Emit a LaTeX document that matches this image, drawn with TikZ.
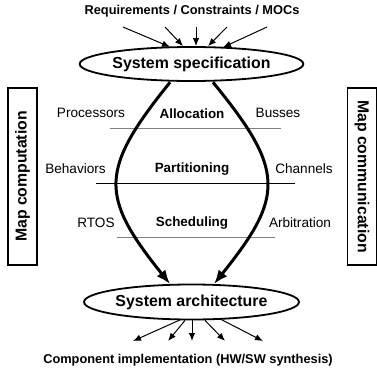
\documentclass[tikz,border=0pt]{standalone}
\usepackage{fontspec}
\setmainfont{Liberation Sans}
\usetikzlibrary{arrows.meta,shapes.geometric}
\tikzset{
  specnode/.style={ellipse, draw, line width=1.8pt, minimum width=191pt,
    minimum height=34pt, inner sep=0pt, font=\fontsize{15.9}{19}\selectfont\bfseries},
  mapbox/.style={draw, line width=1.5pt, minimum width=177pt, minimum height=29pt,
    inner sep=0pt, font=\fontsize{15.8}{19}\selectfont\bfseries},
  side/.style={inner sep=0pt, font=\fontsize{13.6}{16}\selectfont},
  stage/.style={inner sep=0pt, font=\fontsize{13.4}{16}\selectfont\bfseries},
  outer/.style={inner sep=0pt, font=\fontsize{12.8}{15}\selectfont\bfseries},
  thin arrow/.style={line width=1pt, -{Latex[length=8pt,width=6.5pt]}},
  flow/.style={line width=3pt, -{Latex[length=14pt,width=11pt]}},
  sep/.style={line width=1pt},
}
\begin{document}
\begin{tikzpicture}[x=1pt,y=-1pt]
\useasboundingbox (0,0) rectangle (377,372);

% design levels
\node[specnode] (spec) at (191.5,64) {System specification};
\node[specnode, minimum height=35pt] (arch) at (191.5,302) {System architecture};

% inputs and outputs
\node[outer] (req) at (192,11) {Requirements / Constraints / MOCs};
\node[outer] (impl) at (188,360) {Component implementation (HW/SW synthesis)};

% refinement steps and their separators
\draw[sep, gray] (110,128) -- (281,128);
\draw[sep] (96,183) -- (295,183);
\draw[sep, gray] (117,237) -- (275,237);

\node[side] (proc) at (91,113) {Processors};
\node[stage] (alloc) at (192,114) {Allocation};
\node[side] (bus) at (278,113) {Busses};
\node[side] (beh) at (75.5,169) {Behaviors};
\node[stage] (part) at (192,169) {Partitioning};
\node[side] (chan) at (304,169) {Channels};
\node[side] (rtos) at (96,223) {RTOS};
\node[stage] (sched) at (192,223) {Scheduling};
\node[side] (arb) at (300,223) {Arbitration};

% side boxes
\node[mapbox, rotate=90] (mapcomp) at (22.5,176.5) {Map computation};
\node[mapbox, rotate=-90] (mapcomm) at (362,176.5) {Map communication};

% incoming arrows
\coordinate (r1) at (123,27);
\coordinate (r2) at (165,27);
\coordinate (r3) at (196,27);
\coordinate (r4) at (227,27);
\coordinate (r5) at (267,27);
\draw[thin arrow] (r1) -- ([xshift=-21.5pt,yshift=-0.8pt]spec.north);
\draw[thin arrow] (r2) -- ([xshift=-8.5pt]spec.north);
\draw[thin arrow] (r3) -- ([xshift=4.5pt]spec.north);
\draw[thin arrow] (r4) -- ([xshift=16.5pt]spec.north);
\draw[thin arrow] (r5) -- ([xshift=31.5pt,yshift=-1.2pt]spec.north);

% refinement flow
\draw[flow] ([xshift=-21.5pt,yshift=-0.4pt]spec.south)
  .. controls (99.3,170) and (99.3,196) .. ([xshift=-21.5pt,yshift=-0.4pt]arch.north);
\draw[flow] ([xshift=21.5pt,yshift=-0.4pt]spec.south)
  .. controls (284.8,170) and (284.8,196) .. ([xshift=22.5pt,yshift=-0.4pt]arch.north);

% outgoing arrows
\coordinate (o1) at (133,341);
\coordinate (o2) at (168,341);
\coordinate (o3) at (192,341);
\coordinate (o4) at (225,341);
\coordinate (o5) at (263,341);
\draw[thin arrow] ([xshift=-11.5pt,yshift=0.5pt]arch.south) -- (o1);
\draw[thin arrow] ([xshift=-6.5pt]arch.south) -- (o2);
\draw[thin arrow] ([xshift=0.5pt]arch.south) -- (o3);
\draw[thin arrow] ([xshift=13.5pt]arch.south) -- (o4);
\draw[thin arrow] ([xshift=28.5pt,yshift=1.5pt]arch.south) -- (o5);
\end{tikzpicture}
\end{document}
